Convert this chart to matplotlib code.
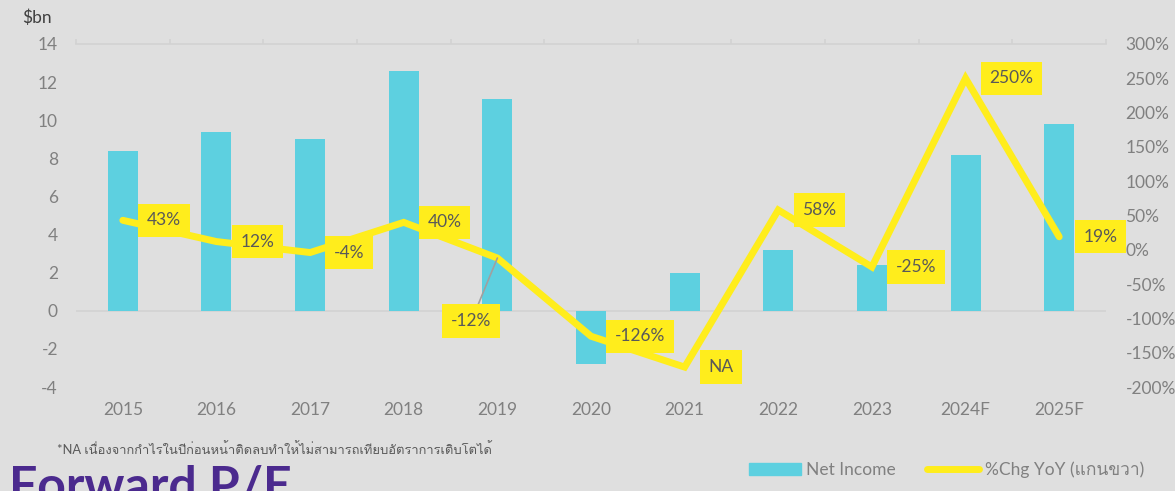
import matplotlib
matplotlib.use('Agg')
import matplotlib.pyplot as plt
from matplotlib import font_manager
from matplotlib.ft2font import FT2Font
from matplotlib.patches import Patch
from matplotlib.lines import Line2D


def thai_family():
    # pick any installed family that has Thai glyphs
    for f in font_manager.fontManager.ttflist:
        try:
            if 0x0E40 in FT2Font(f.fname).get_charmap():
                return f.name
        except Exception:
            pass
    return 'DejaVu Sans'


years = ['2015', '2016', '2017', '2018', '2019', '2020', '2021', '2022', '2023', '2024F', '2025F']
net_income = [8.4, 9.4, 9.0, 12.6, 11.1, -2.8, 2.0, 3.2, 2.4, 8.2, 9.8]
chg_yoy = [43, 12, -4, 40, -12, -126, -171, 58, -25, 250, 19]
chg_labels = ['43%', '12%', '-4%', '40%', '-12%', '-126%', 'NA', '58%', '-25%', '250%', '19%']
left_ticks = list(range(-4, 15, 2))
right_ticks = list(range(-200, 301, 50))

BG = '#dfdfdf'
CYAN = '#5dd0e0'
YELLOW = '#ffed1c'
GREY = '#808080'

plt.rcParams['font.family'] = ['Lato', thai_family(), 'DejaVu Sans']
plt.rcParams['axes.unicode_minus'] = False

fig = plt.figure(figsize=(11.75, 4.91), dpi=100, facecolor=BG)
ax = fig.add_axes([76 / 1175, 1 - 387 / 491, 1030 / 1175, 343 / 491])
ax.set_facecolor(BG)
x = list(range(len(years)))

ax.bar(x, net_income, width=0.32, color=CYAN, zorder=2)
ax.set_xlim(-0.5, len(years) - 0.5)
ax.set_ylim(-4, 14)
ax.set_yticks(left_ticks)
ax.set_xticks(x)
ax.set_xticklabels(years)
ax.axhline(0, color='#d2d2d2', lw=1.2, zorder=1)
ax.axhline(14, color='#d2d2d2', lw=1.2, zorder=1, clip_on=False)
ax.vlines([k - 0.5 for k in range(len(years) + 1)], 14, 14.25, color='#d2d2d2', lw=1.2, clip_on=False)
for s in ax.spines.values():
    s.set_visible(False)
ax.tick_params(axis='y', length=0, pad=13, labelsize=12.5, labelcolor=GREY)
ax.tick_params(axis='x', length=0, pad=11, labelsize=12.5, labelcolor=GREY)

ax2 = ax.twinx()
ax2.set_ylim(-200, 300)
ax2.set_yticks(right_ticks)
ax2.set_yticklabels([f'{v}%' for v in right_ticks])
ax2.plot(x, chg_yoy, color=YELLOW, lw=5, solid_joinstyle='miter', solid_capstyle='round', zorder=3)
for s in ax2.spines.values():
    s.set_visible(False)
ax2.tick_params(axis='y', length=0, pad=14, labelsize=12.5, labelcolor=GREY)

box = dict(boxstyle='square,pad=0.5', fc=YELLOW, ec='none')
for i, (v, lab) in enumerate(zip(chg_yoy, chg_labels)):
    if lab == '-12%':
        ax2.annotate(lab, (i, v), xytext=(-26, -63), textcoords='offset pixels',
                     ha='center', va='center', fontsize=12.5, color='#595959', bbox=box,
                     arrowprops=dict(arrowstyle='-', color='#a0a0a0', lw=1.2, shrinkA=0, shrinkB=0),
                     zorder=5)
    else:
        ax2.annotate(lab, (i, v), xytext=(24, 0), textcoords='offset pixels',
                     ha='left', va='center', fontsize=12.5, color='#595959', bbox=box, zorder=5)

fig.text(22 / 1175, 1 - 18 / 491, '$bn', fontsize=12.5, color='#404040', va='center', ha='left')
fig.text(57 / 1175, 1 - 449 / 491,
         '*NA เนื่องจากกำไรในปีก่อนหน้าติดลบทำให้ไม่สามารถเทียบอัตราการเติบโตได้',
         fontsize=9.3, color='#595959', va='center', ha='left')
fig.text(9 / 1175, 1 - 465 / 491, 'Forward P/E', fontsize=36, fontweight='bold',
         color='#4b2a8e', va='top', ha='left')

handles = [Patch(color=CYAN), Line2D([], [], color=YELLOW, lw=5, solid_capstyle='round')]
fig.legend(handles, ['Net Income', '%Chg YoY (แกนขวา)'], loc='center left',
           bbox_to_anchor=(749 / 1175, 1 - 470 / 491), ncol=2, frameon=False,
           fontsize=12.5, labelcolor=GREY, handlelength=3.0, handleheight=0.7,
           columnspacing=1.8, handletextpad=0.3, borderpad=0, borderaxespad=0)

fig.savefig('out.png', dpi=100, facecolor=BG)
